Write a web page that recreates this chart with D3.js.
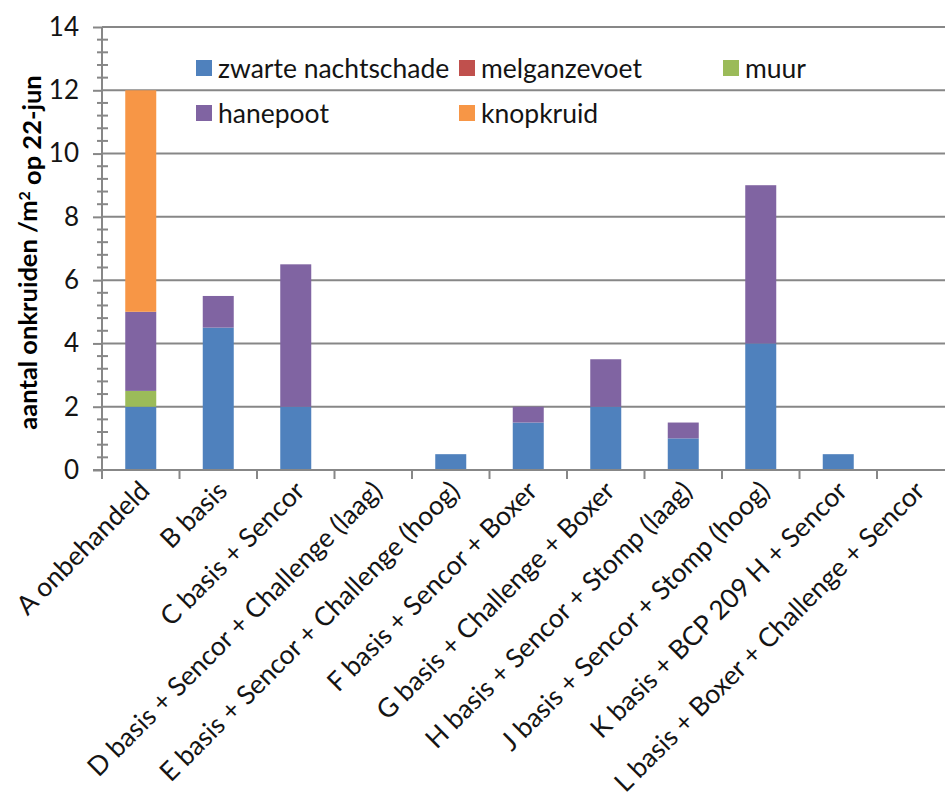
<!DOCTYPE html>
<html>
<head>
<meta charset="utf-8">
<script src="https://cdn.jsdelivr.net/npm/d3@7"></script>
<style>
  html, body { margin: 0; padding: 0; background: #fff; overflow: hidden; }
  svg { display: block; font-family: Lato, "Open Sans", sans-serif; }
</style>
</head>
<body>
<svg id="chart" width="945" height="798"></svg>
<script>
// ---- data ----
const categories = [
  "A onbehandeld",
  "B basis",
  "C basis + Sencor",
  "D basis + Sencor + Challenge (laag)",
  "E basis + Sencor + Challenge (hoog)",
  "F basis + Sencor + Boxer",
  "G basis + Challenge + Boxer",
  "H basis + Sencor + Stomp (laag)",
  "J basis + Sencor + Stomp (hoog)",
  "K basis + BCP 209 H + Sencor",
  "L basis + Boxer + Challenge + Sencor"
];
const seriesNames = ["zwarte nachtschade", "melganzevoet", "muur", "hanepoot", "knopkruid"];
const zwarteNachtschade = [2, 4.5, 2, 0, 0.5, 1.5, 2, 1, 4, 0.5, 0];
const melganzevoet      = [0, 0, 0, 0, 0, 0, 0, 0, 0, 0, 0];
const muur              = [0.5, 0, 0, 0, 0, 0, 0, 0, 0, 0, 0];
const hanepoot          = [2.5, 1, 4.5, 0, 0, 0.5, 1.5, 0.5, 5, 0, 0];
const knopkruid         = [7, 0, 0, 0, 0, 0, 0, 0, 0, 0, 0];
const yTicks = [0, 2, 4, 6, 8, 10, 12, 14];
const colors = ["#4F81BD", "#C0504D", "#9BBB59", "#8064A2", "#F79646"];

(function () {
const seriesValues = [zwarteNachtschade, melganzevoet, muur, hanepoot, knopkruid];
const table = categories.map((c, i) => {
  const row = { cat: c };
  seriesNames.forEach((s, k) => row[s] = seriesValues[k][i]);
  return row;
});

// ---- layout ----
const svg = d3.select("#chart");
const pLeft = 102, pRight = 954.5, pTop = 27, pBottom = 470;
const gridColor = "#878787";
const textColor = "#141414";

const x = d3.scaleBand().domain(categories).range([pLeft, pRight])
  .paddingInner(0.6).paddingOuter(0.3);
const y = d3.scaleLinear().domain([0, 14]).range([pBottom, pTop]);
const step = x.step();

// gridlines
svg.append("g").selectAll("line").data(yTicks.filter(v => v > 0)).join("line")
  .attr("x1", pLeft).attr("x2", 945)
  .attr("y1", d => y(d)).attr("y2", d => y(d))
  .attr("stroke", gridColor).attr("stroke-width", 2);

// minor ticks (crossing axis)
const minor = d3.range(0, 70).map(i => +(i * 0.4).toFixed(1)).filter(v => v <= 14 && Math.abs(v / 2 - Math.round(v / 2)) > 1e-6);
svg.append("g").selectAll("line").data(minor).join("line")
  .attr("x1", pLeft - 5).attr("x2", pLeft + 6)
  .attr("y1", d => y(d)).attr("y2", d => y(d))
  .attr("stroke", gridColor).attr("stroke-width", 2);

// y axis
const yAxis = d3.axisLeft(y).tickValues(yTicks).tickSize(9).tickPadding(14).tickFormat(d3.format("d"));
const gy = svg.append("g").attr("transform", `translate(${pLeft},0)`).call(yAxis);
gy.select(".domain").attr("stroke", gridColor).attr("stroke-width", 2).attr("d", `M0,${pTop}V${pBottom}`);
gy.selectAll(".tick line").attr("stroke", gridColor).attr("stroke-width", 2);
gy.selectAll(".tick text").attr("fill", textColor).style("font-size", "26px")
  .style("font-family", "Lato, sans-serif");

// bars
const stacked = d3.stack().keys(seriesNames)(table);
svg.append("g").selectAll("g").data(stacked).join("g")
  .attr("fill", (d, i) => colors[i])
  .selectAll("rect").data(d => d.filter(p => p[1] - p[0] > 0)).join("rect")
  .attr("x", d => x(d.data.cat))
  .attr("width", x.bandwidth())
  .attr("y", d => y(d[1]))
  .attr("height", d => y(d[0]) - y(d[1]));

// x axis line
svg.append("line").attr("x1", pLeft - 9).attr("x2", 945).attr("y1", pBottom).attr("y2", pBottom)
  .attr("stroke", gridColor).attr("stroke-width", 2);
// category boundary ticks
const boundaries = categories.map(c => x(c) - step * 0.3).concat([pRight]);
svg.append("g").selectAll("line").data(boundaries).join("line")
  .attr("x1", d => d).attr("x2", d => d)
  .attr("y1", pBottom).attr("y2", pBottom + 9)
  .attr("stroke", gridColor).attr("stroke-width", 2);

// x labels rotated
svg.append("g").selectAll("text").data(categories).join("text")
  .attr("transform", d => `translate(${x(d) + x.bandwidth() / 2 + 4},${pBottom + 16}) rotate(-45)`)
  .attr("text-anchor", "end")
  .attr("dy", "0.35em")
  .attr("fill", textColor)
  .style("font-size", "26.5px")
  .text(d => d);

// y title
const yt = svg.append("text")
  .attr("transform", `translate(37,${(pTop + pBottom) / 2 + 4}) rotate(-90)`)
  .attr("text-anchor", "middle")
  .attr("fill", "#000")
  .style("font-size", "25.5px").style("font-weight", "bold");
yt.append("tspan").text("aantal onkruiden /m");
yt.append("tspan").attr("dy", "-0.45em").style("font-size", "16px").text("2");
yt.append("tspan").attr("dy", "0.45em").text(" op 22-jun");

// legend
const legendPos = [
  { x: 196, y: 68 }, { x: 459, y: 68 }, { x: 723, y: 68 },
  { x: 196, y: 113 }, { x: 459, y: 113 }
];
const lg = svg.append("g").selectAll("g").data(seriesNames).join("g")
  .attr("transform", (d, i) => `translate(${legendPos[i].x},${legendPos[i].y})`);
lg.append("rect").attr("x", 0).attr("y", -8).attr("width", 16).attr("height", 16)
  .attr("fill", (d, i) => colors[i]);
lg.append("text").attr("x", 22).attr("dy", "0.36em").attr("fill", textColor)
  .style("font-size", "26.5px").text(d => d);
})();
</script>
</body>
</html>
